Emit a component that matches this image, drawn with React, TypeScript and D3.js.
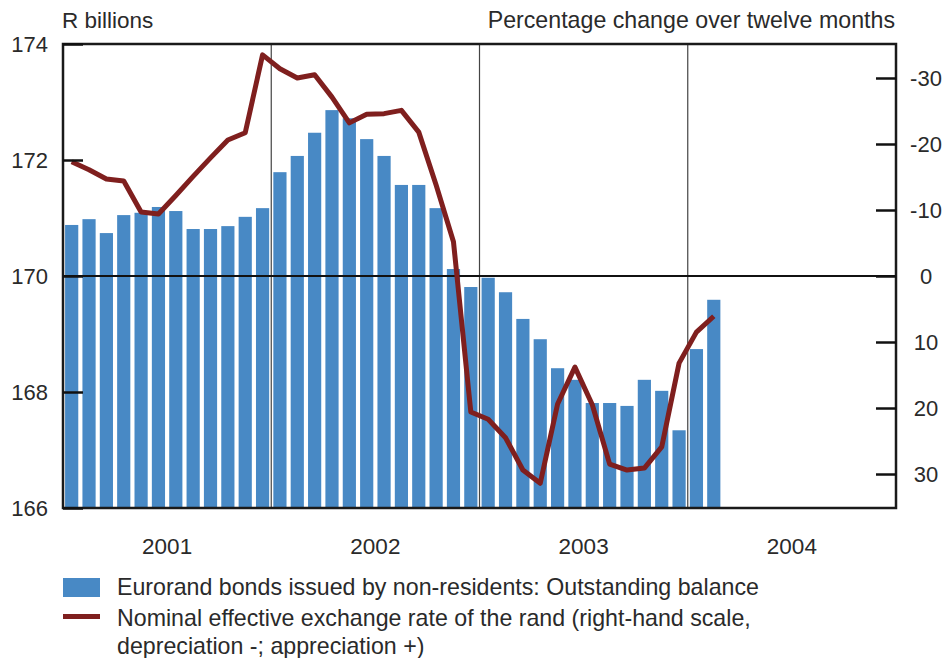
import { useEffect, useRef } from "react";
import * as d3 from "d3";

// months Jan 2001 .. Dec 2004 (48 slots), data through Feb 2004
const years = ["2001", "2002", "2003", "2004"];
const months = years.flatMap((y) => d3.range(1, 13).map((m) => `${y}-${String(m).padStart(2, "0")}`));

// Eurorand bonds outstanding, R billions
const bondValues = [
  170.88, 170.98, 170.74, 171.05, 171.09, 171.19, 171.12, 170.81, 170.81, 170.86, 171.02, 171.17,
  171.79, 172.07, 172.47, 172.86, 172.72, 172.36, 172.07, 171.57, 171.57, 171.17, 170.12, 169.81,
  169.97, 169.72, 169.26, 168.91, 168.41, 168.21, 167.81, 167.81, 167.76, 168.21, 168.02, 167.34,
  168.74, 169.59,
];

// NEER, percentage change over twelve months
const neerValues = [
  -17.3, -16.1, -14.7, -14.4, -9.7, -9.4, -12.2, -15.1, -17.9, -20.6, -21.7, -33.5,
  -31.4, -30.0, -30.5, -27.1, -23.2, -24.5, -24.6, -25.1, -21.8, -13.8, -5.2, 20.6,
  21.7, 24.5, 29.4, 31.4, 19.4, 13.8, 19.5, 28.5, 29.4, 29.1, 25.9, 13.2,
  8.5, 6.1,
];

const leftTicks = [166, 168, 170, 172, 174];
const rightTicks = [-30, -20, -10, 0, 10, 20, 30];

const legendLabels = [
  ["Eurorand bonds issued by non-residents: Outstanding balance"],
  ["Nominal effective exchange rate of the rand (right-hand scale,", "depreciation -; appreciation +)"],
];

export default function App() {
  const ref = useRef<SVGSVGElement>(null);
  const width = 945;
  const height = 658;
  const margin = { left: 63, right: 49, top: 44, bottom: 150 };

  useEffect(() => {
    const svg = d3.select(ref.current);
    svg.selectAll("*").remove();
    const font = "'Liberation Sans', Arial, sans-serif";
    const textColor = "#2a2a2a";

    const x0 = margin.left;
    const x1 = width - margin.right;
    const y0 = margin.top;
    const y1 = height - margin.bottom;

    const x = d3.scaleBand().domain(months).range([x0, x1]).paddingInner(0.24).paddingOuter(0.12);
    const yL = d3.scaleLinear().domain([166, 174]).range([y1, y0]);
    const yR = d3.scaleLinear().domain([-35.15, 35.15]).range([y0, y1]);
    const yearX = d3.scaleBand().domain(years).range([x0, x1]);

    // bars
    svg
      .append("g")
      .selectAll("rect")
      .data(bondValues)
      .enter()
      .append("rect")
      .attr("x", (d, i) => x(months[i])!)
      .attr("width", x.bandwidth())
      .attr("y", (d) => yL(d))
      .attr("height", (d) => y1 - yL(d))
      .attr("fill", "#4889c5");

    // year dividers
    svg
      .append("g")
      .selectAll("line")
      .data(years.slice(1))
      .enter()
      .append("line")
      .attr("x1", (d) => yearX(d)!)
      .attr("x2", (d) => yearX(d)!)
      .attr("y1", y0)
      .attr("y2", y1)
      .attr("stroke", "#444")
      .attr("stroke-width", 1.2);

    // zero line
    svg
      .append("line")
      .attr("x1", x0)
      .attr("x2", x1)
      .attr("y1", yR(0))
      .attr("y2", yR(0))
      .attr("stroke", "#111")
      .attr("stroke-width", 2);

    // NEER line
    const line = d3
      .line<number>()
      .x((d, i) => x(months[i])! + x.bandwidth() / 2)
      .y((d) => yR(d));
    svg
      .append("path")
      .datum(neerValues)
      .attr("d", line)
      .attr("fill", "none")
      .attr("stroke", "#7f1f1e")
      .attr("stroke-width", 5)
      .attr("stroke-linejoin", "round");

    // frame
    svg
      .append("rect")
      .attr("x", x0)
      .attr("y", y0)
      .attr("width", x1 - x0)
      .attr("height", y1 - y0)
      .attr("fill", "none")
      .attr("stroke", "#1a1a1a")
      .attr("stroke-width", 2.5);

    // left axis
    const gL = svg
      .append("g")
      .attr("transform", `translate(${x0},0)`)
      .call(d3.axisLeft(yL).tickValues(leftTicks).tickSize(-20).tickPadding(35).tickFormat(d3.format("d")));
    gL.select(".domain").remove();
    gL.selectAll(".tick line").attr("stroke", "#111").attr("stroke-width", 2.5);
    gL.selectAll(".tick text")
      .attr("font-family", font)
      .attr("font-size", 22)
      .attr("fill", textColor)
      .attr("text-anchor", "end")
      .attr("x", 48 - x0);

    // right axis
    const gR = svg
      .append("g")
      .attr("transform", `translate(${x1},0)`)
      .call(d3.axisRight(yR).tickValues(rightTicks).tickSize(-20).tickFormat(d3.format("d")));
    gR.select(".domain").remove();
    gR.selectAll(".tick line").attr("stroke", "#111").attr("stroke-width", 2.5);
    gR.selectAll(".tick text")
      .attr("font-family", font)
      .attr("font-size", 22)
      .attr("fill", textColor)
      .attr("text-anchor", "middle")
      .attr("x", 926 - x1)
      .text((d: any) => (d < 0 ? "-" + Math.abs(d) : String(d)));

    // year labels
    svg
      .append("g")
      .selectAll("text")
      .data(years)
      .enter()
      .append("text")
      .attr("x", (d) => yearX(d)! + yearX.bandwidth() / 2)
      .attr("y", 554)
      .attr("text-anchor", "middle")
      .attr("font-family", font)
      .attr("font-size", 22.5)
      .attr("fill", textColor)
      .text((d) => d);

    // axis titles
    svg
      .append("text")
      .attr("x", 62)
      .attr("y", 28)
      .attr("font-family", font)
      .attr("font-size", 22.5)
      .attr("fill", textColor)
      .text("R billions");
    svg
      .append("text")
      .attr("x", 895)
      .attr("y", 28)
      .attr("text-anchor", "end")
      .attr("font-family", font)
      .attr("font-size", 23.2)
      .attr("fill", textColor)
      .text("Percentage change over twelve months");

    // legend
    const leg = svg.append("g");
    leg.append("rect").attr("x", 63).attr("y", 578).attr("width", 37).attr("height", 19).attr("fill", "#4889c5");
    leg.append("rect").attr("x", 63).attr("y", 614).attr("width", 37).attr("height", 5).attr("fill", "#7f1f1e");
    const legY = [595, 626];
    legendLabels.forEach((lines, i) => {
      const t = leg
        .append("text")
        .attr("x", 117)
        .attr("y", legY[i])
        .attr("font-family", font)
        .attr("font-size", 23.2)
        .attr("fill", textColor);
      lines.forEach((s, j) => {
        t.append("tspan").attr("x", 117).attr("dy", j === 0 ? 0 : 27.5).text(s);
      });
    });
  }, []);

  return (
    <svg
      ref={ref}
      width={width}
      height={height}
      style={{ position: "absolute", left: 0, top: 0, background: "#fff" }}
    />
  );
}
